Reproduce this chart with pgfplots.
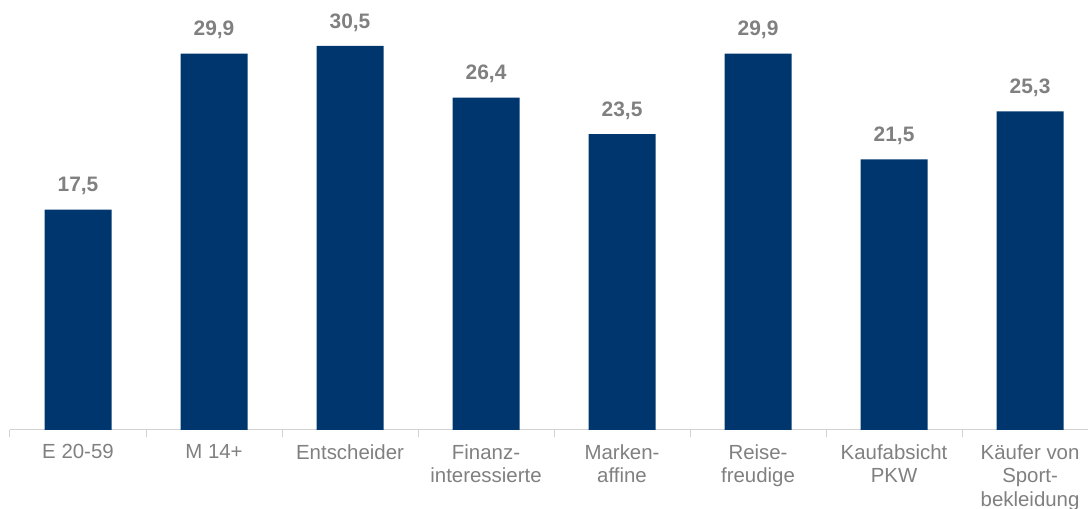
\documentclass[border=0pt]{standalone}
\usepackage{pgfplots}
\pgfplotsset{compat=1.18}
\usepackage{fontspec}
\setmainfont{Liberation Sans}
\definecolor{navy}{RGB}{0,54,110}
\definecolor{txtgray}{RGB}{128,128,128}
\definecolor{linegray}{RGB}{210,210,210}
\begin{document}
\begin{tikzpicture}
\begin{axis}[
    name=ax,
    scale only axis,
    width=1078bp, height=430bp,
    xmin=-0.5, xmax=7.426,
    ymin=0, ymax=34.15,
    axis x line=bottom,
    axis y line=none,
    axis line style={-, draw=linegray, line width=1bp},
    xtick=data,
    xticklabels={E 20-59, M 14+, Entscheider, {Finanz-\\interessierte}, {Marken-\\affine}, {Reise-\\freudige}, {Kaufabsicht\\PKW}, {Käufer von\\Sport-\\bekleidung}},
    xticklabel style={align=center, text=txtgray, font=\fontsize{20.5}{23.5}\selectfont, yshift=-11bp},
    major tick length=0pt,
    extra x ticks={-0.5,0.5,1.5,2.5,3.5,4.5,5.5,6.5},
    extra x tick labels={},
    extra x tick style={tick align=outside, major tick length=7bp, tick style={draw=linegray, line width=1bp}},
    ybar,
    bar width=67bp,
    nodes near coords,
    /pgf/number format/.cd, fixed, fixed zerofill, precision=1, use comma, assume math mode=true,
    /pgfplots/.cd,
    every node near coord/.append style={text=txtgray, font=\bfseries\fontsize{21}{24}\selectfont, yshift=11bp},
]
\addplot[fill=navy, draw=none] coordinates {
    (0,17.5) (1,29.9) (2,30.5) (3,26.4) (4,23.5) (5,29.9) (6,21.5) (7,25.3)
};
\end{axis}
\pgfresetboundingbox
\useasboundingbox ([xshift=-10bp, yshift=-79bp]ax.south west) rectangle (ax.north east);
\end{tikzpicture}
\end{document}
